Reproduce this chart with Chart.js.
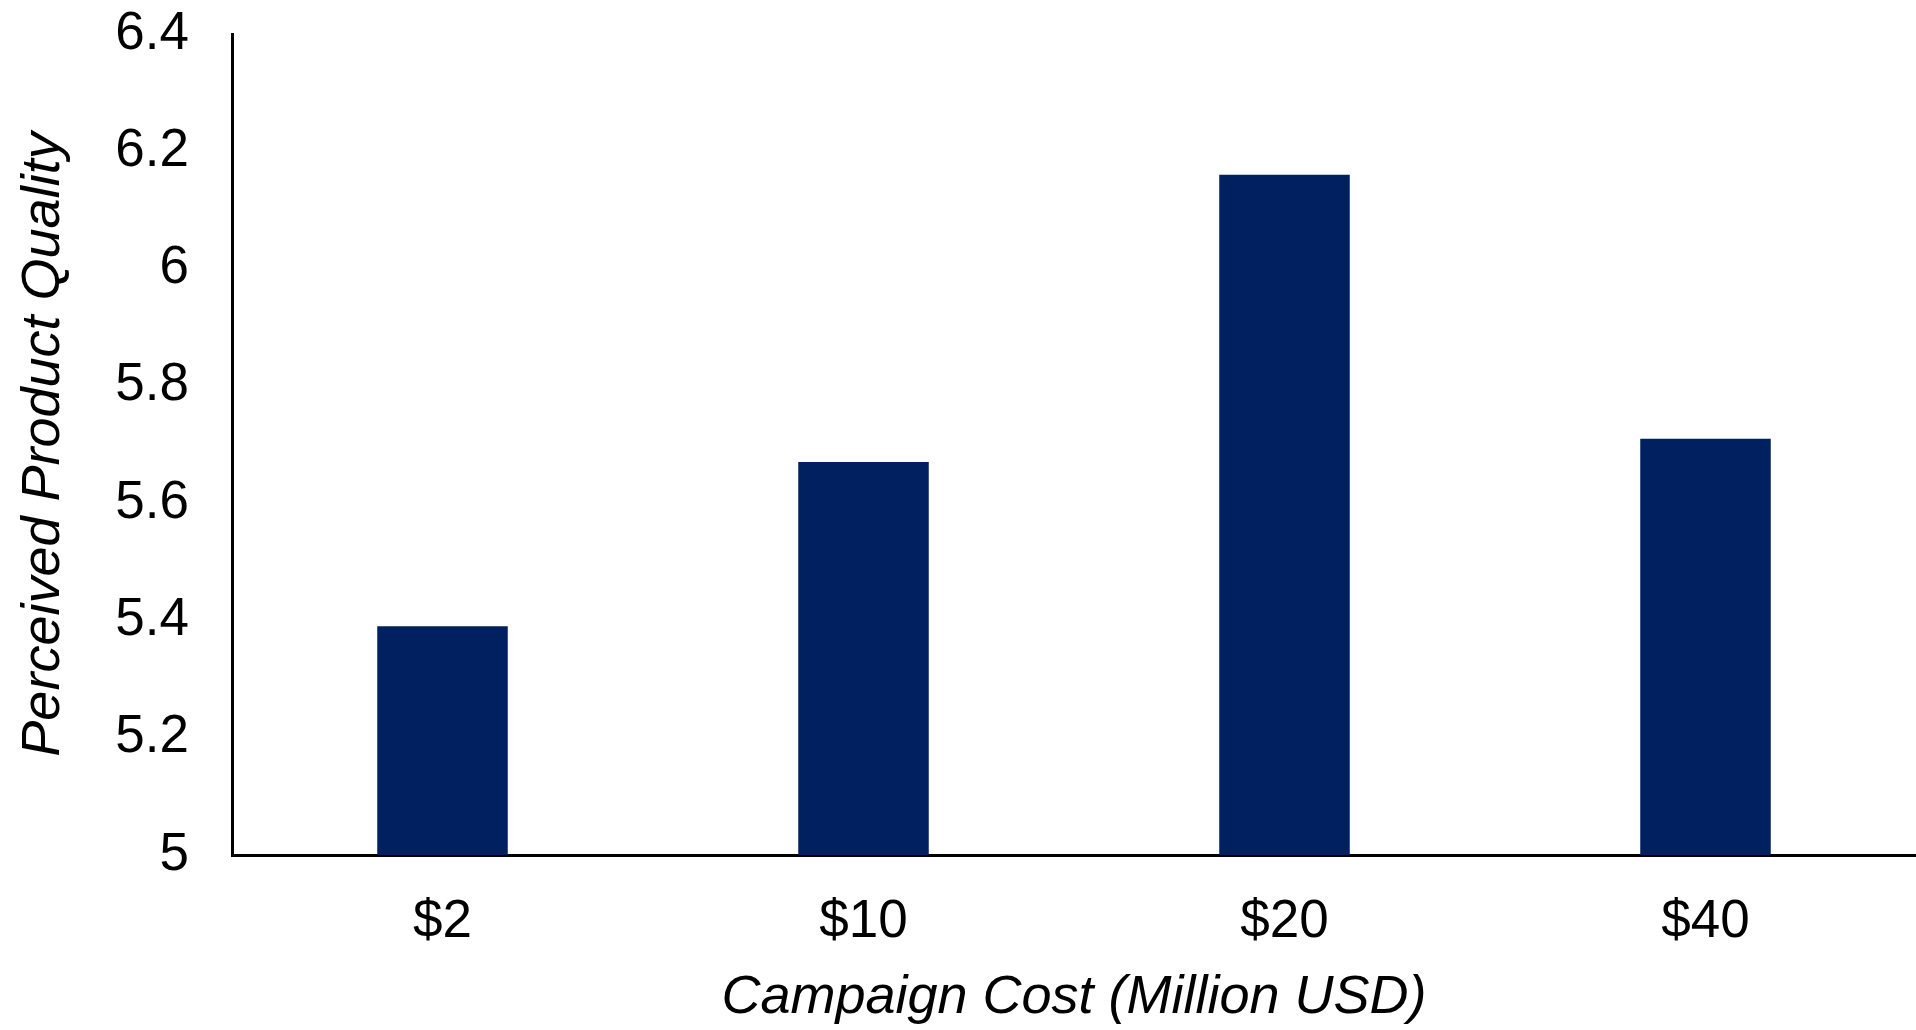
<!DOCTYPE html>
<html>
<head>
<meta charset="utf-8">
<script src="https://cdn.jsdelivr.net/npm/chart.js@4"></script>
<style>
html,body{margin:0;padding:0;background:#fff;}
#wrap{width:1916px;height:1030px;}
</style>
</head>
<body>
<div id="wrap"><canvas id="c" width="1916" height="1030"></canvas></div>
<script>
const categories = ['$2', '$10', '$20', '$40'];
const quality = [5.39, 5.67, 6.16, 5.71];
const yTicks = [5, 5.2, 5.4, 5.6, 5.8, 6, 6.2, 6.4];
const xTitle = 'Campaign Cost (Million USD)';
const yTitle = 'Perceived Product Quality';

const FONT = '"Liberation Sans", Arial, sans-serif';

new Chart(document.getElementById('c'), {
  type: 'bar',
  data: {
    labels: categories,
    datasets: [{
      data: quality,
      backgroundColor: '#002060',
      borderWidth: 0,
      barPercentage: 0.31,
      categoryPercentage: 1.0
    }]
  },
  options: {
    responsive: false,
    animation: false,
    devicePixelRatio: 1,
    layout: { padding: { top: 34, right: 0, left: 0, bottom: 0 } },
    plugins: { legend: { display: false }, tooltip: { enabled: false } },
    scales: {
      x: {
        grid: { display: false, drawTicks: false },
        border: { display: true, color: '#000', width: 3 },
        ticks: { color: '#000', font: { family: FONT, size: 53 }, padding: 36 },
        title: { display: true, text: xTitle, color: '#000', font: { family: FONT, size: 54, style: 'italic' }, padding: { top: 10, bottom: 0 } },
        afterFit: (s) => { s.height = 175; }
      },
      y: {
        min: 5, max: 6.4,
        afterBuildTicks: (s) => { s.ticks = yTicks.map(v => ({ value: v })); },
        grid: { display: false, drawTicks: true, tickLength: 43 },
        border: { display: true, color: '#000', width: 3 },
        ticks: {
          color: '#000', font: { family: FONT, size: 53 }, padding: 0,
          callback: (v) => String(Math.round(v * 10) / 10)
        },
        title: { display: true, text: yTitle, color: '#000', font: { family: FONT, size: 54, style: 'italic' }, padding: { top: 12, bottom: 0 } },
        afterFit: (s) => { s.width = 232; }
      }
    }
  }
});
</script>
</body>
</html>
